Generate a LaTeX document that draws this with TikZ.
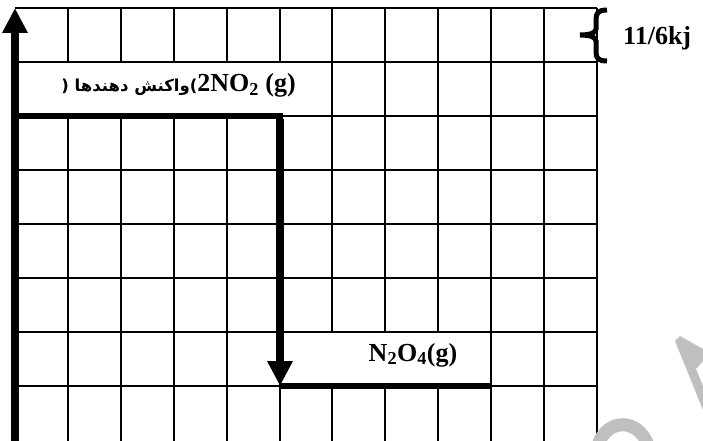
\documentclass[tikz,border=0pt]{standalone}
\usepackage{fontspec}
\setmainfont{Liberation Serif}
\newfontfamily\fafont[Script=Arabic]{DejaVu Sans}
\TeXXeTstate=1
\usetikzlibrary{arrows.meta}
\tikzset{
  gridline/.style={line width=2pt, black},
  level/.style={line width=6pt, black},
  energyarrow/.style={line width=8pt, black, -{Triangle[width=24pt,length=25pt]}},
  whitebox/.style={fill=white, draw=none},
  lbl/.style={inner sep=0pt, font=\bfseries\fontsize{26}{28}\selectfont},
  wm/.style={black!25}
}
\begin{document}
\begin{tikzpicture}[x=1pt,y=-1pt]
\useasboundingbox (0,0) rectangle (703,441);
% grid
\foreach \i in {1,...,11} {
  \draw[gridline] ({15+52.9*\i},8) -- ({15+52.9*\i},441);
}
\foreach \j in {0,...,7} {
  \draw[gridline] (15,{8+54*\j}) -- (597,{8+54*\j});
}
% white label boxes
\fill[whitebox] (16,63) rectangle (331,115);
\fill[whitebox] (281,333) rectangle (490,385);
% coordinates
\coordinate (bottom) at (15,441);
\coordinate (top) at (15,8);
\coordinate (r1) at (15,116);
\coordinate (r1e) at (280,116);
\coordinate (p2) at (280,386);
\coordinate (p2e) at (491,386);
% levels and arrows
\draw[level] (r1) -- ([xshift=3pt]r1e);
\draw[level] (p2) -- (p2e);
\draw[energyarrow] (bottom) -- (top);
\draw[energyarrow] ([yshift=-3pt]r1e) -- (p2);
% labels
\node[lbl, anchor=base east] (reac) at (296,92)
  {{\fafont\fontsize{16.5}{18}\selectfont ( \beginR واکنش دهندها\endR)}2NO\textsubscript{2} (g)};
\node[lbl, anchor=base] (prod) at (413,361) {N\textsubscript{2}O\textsubscript{4}(g)};
\node[lbl, anchor=base west] (dh) at (623,45) {11/6kj};
% brace
\draw[line width=5pt, line cap=butt] (607,10) .. controls (598,10) and (596,13) .. (596,20)
  -- (596,29) .. controls (596,33) and (590,35) .. (580,35)
  .. controls (590,35) and (596,37) .. (596,41)
  -- (596,52) .. controls (596,58) and (598,61) .. (607,61);
% watermark
\draw[wm, line width=13pt] (598,445) .. controls (607,418) and (638,418) .. (648,445);
\fill[wm] (675,341) -- (680,336) -- (703,349) -- (703,361) -- (696,369) -- (703,386) -- (703,410) -- cycle;
\end{tikzpicture}
\end{document}
